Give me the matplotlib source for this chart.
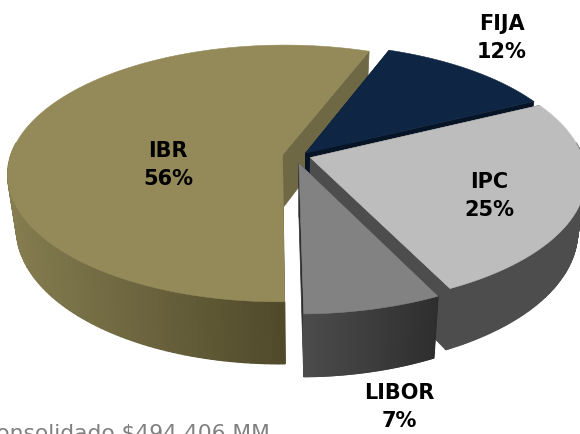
import matplotlib
matplotlib.use('Agg')
import matplotlib.pyplot as plt
from matplotlib.colors import to_rgb
from matplotlib.patches import Polygon
import numpy as np

labels = ['IBR', 'FIJA', 'IPC', 'LIBOR']
shares = [56, 12, 25, 7]
explode = [0.065, 0.03, 0.04, 0.06]
nudge = [0, 0, 0, -0.018]
top_colors = ['#948a59', '#0e2644', '#bdbdbd', '#828282']
wall_left = ['#857d50', '#071425', '#4d4d4d', '#4c4c4c']
wall_right = ['#504a2b', '#071425', '#4d4d4d', '#2e2e2e']
inner_colors = ['#6e6845', '#071425', '#4d4d4d', '#2e2e2e']
label_pos = [(168, 165), (502, 38), (489, 196), (399, 407)]

# pie geometry, in pixels
cx, cy = 300, 156
rx, ry = 272, 126
persp = 0.147
depth = 53
narrow = 0.03
start = 69.3


def project(u, v, drop=0.0):
    s = 1 / (1 + persp * v)
    return cx + rx * u * s * (1 - narrow * drop), cy - ry * v * s + depth * s * drop


def slice_edges(a0, a1, off):
    t = np.radians(np.linspace(a0, a1, 160))
    return np.cos(t) + off[0], np.sin(t) + off[1]


plt.rcParams['font.family'] = ['DejaVu Sans']
fig = plt.figure(figsize=(5.8, 4.34), dpi=100)
ax = fig.add_axes([0, 0, 1, 1])
ax.set_xlim(0, 580)
ax.set_ylim(434, 0)
ax.axis('off')

# angles run clockwise from IBR's far edge, IBR goes the other way round
spans = {}
a = start
for name, share in zip(labels[1:], shares[1:]):
    spans[name] = (a, a - share * 3.6)
    a -= share * 3.6
spans['IBR'] = (start + shares[0] * 3.6, start)

for i, name in enumerate(labels):
    a0, a1 = spans[name]
    mid = np.radians((a0 + a1) / 2)
    off = (explode[i] * np.cos(mid) + nudge[i], explode[i] * np.sin(mid))
    us, vs = slice_edges(a0, a1, off)

    # radial side faces
    for k in (0, -1):
        quad = [project(off[0], off[1]), project(us[k], vs[k]),
                project(us[k], vs[k], 1), project(off[0], off[1], 1)]
        ax.add_patch(Polygon(quad, closed=True, fc=inner_colors[i], ec=inner_colors[i], lw=0.5))

    x_top, y_top = project(us, vs)
    x_bot, y_bot = project(us, vs, 1)

    # outer wall, shaded left to right, front part only (FIJA has none)
    front = vs <= 0.1
    if front.any():
        x0, x1 = x_top[front].min(), x_top[front].max()
        for j in range(len(us) - 1):
            if not (front[j] or front[j + 1]):
                continue
            f = np.clip((x_top[j] - x0) / (x1 - x0), 0, 1)
            col = (1 - f) * np.array(to_rgb(wall_left[i])) + f * np.array(to_rgb(wall_right[i]))
            quad = [(x_top[j], y_top[j]), (x_top[j + 1], y_top[j + 1]),
                    (x_bot[j + 1], y_bot[j + 1]), (x_bot[j], y_bot[j])]
            ax.add_patch(Polygon(quad, closed=True, fc=col, ec=col, lw=1.0))

    # top face
    pts = [project(off[0], off[1])] + list(zip(x_top, y_top))
    ax.add_patch(Polygon(pts, closed=True, fc=top_colors[i], ec=top_colors[i], lw=0.4))

for name, share, (x, y) in zip(labels, shares, label_pos):
    ax.text(x, y, f'{name}\n{share}%', ha='center', va='center', fontsize=15,
            fontweight='bold', color='black', linespacing=1.55)

ax.text(270, 440, 'Consolidado $494.406 MM', ha='right', va='baseline',
        fontsize=15.7, color='#808080')

fig.savefig('out.png', dpi=100)
